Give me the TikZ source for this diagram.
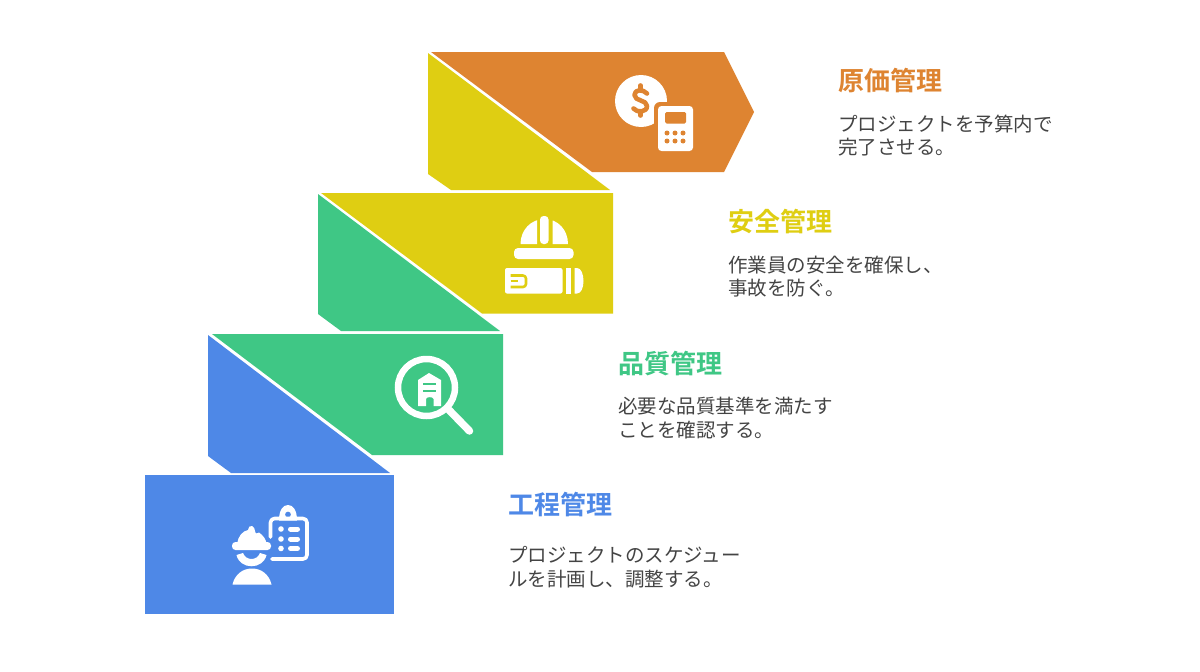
\documentclass[tikz,border=0pt]{standalone}
\usepackage{fontspec}
\setmainfont{Noto Sans CJK JP}
\newfontfamily\jpbold[BoldFont=Noto Sans CJK JP Bold]{Noto Sans CJK JP Bold}
\definecolor{cOrange}{HTML}{DE8431}
\definecolor{cYellow}{HTML}{DFCE12}
\definecolor{cGreen}{HTML}{3FC785}
\definecolor{cBlue}{HTML}{4E88E7}
\definecolor{cBody}{HTML}{444444}
\tikzset{
  titletext/.style={anchor=west,inner sep=0pt,font=\fontsize{26}{30}\selectfont\jpbold},
  bodytext/.style={anchor=west,inner sep=0pt,align=left,text=cBody,font=\fontsize{19.5}{23.5}\selectfont},
  iconfill/.style={fill=white,draw=none},
  iconline/.style={draw=white,line cap=round,line join=round}
}
\begin{document}
\begin{tikzpicture}[x=1pt,y=-1pt]
\useasboundingbox (0,0) rectangle (1200,672);
\fill[white] (0,0) rectangle (1200,672);
% step bodies
\fill[cOrange] (431,52) -- (724,52) -- (754,112) -- (724,172) -- (592,172) -- cycle;
\fill[cYellow] (428,53) -- (428,174) -- (451,190) -- (610,190) -- cycle;
\fill[cYellow] (321,193) -- (613,193) -- (613,313.5) -- (482,313.5) -- cycle;
\fill[cGreen] (318,194) -- (318,314) -- (341,331) -- (500,331) -- cycle;
\fill[cGreen] (212,334) -- (503,334) -- (503,455) -- (372,455) -- cycle;
\fill[cBlue] (208,335) -- (208,456) -- (231,473) -- (390,473) -- cycle;
\fill[cBlue] (145,475) rectangle (394,614);
% dollar + calculator icon
\fill[white] (641,101) circle (26);
\fill[cOrange,rounded corners=6] (654,102) rectangle (697,155);
\fill[white,rounded corners=3.5] (658,106) rectangle (693,151);
\fill[cOrange,rounded corners=1.5] (665,112) rectangle (686,123.5);
\foreach \bx in {667,675,683} \foreach \by in {133,141} \fill[cOrange] (\bx,\by) circle (2.5);
\draw[cOrange,line width=4.6,line cap=round,line join=round]
  (647,93.5) .. controls (643,89) and (634.5,89) .. (634.5,95)
  .. controls (634.5,101.5) and (647,99.5) .. (647,106)
  .. controls (647,112.5) and (637,113) .. (633.5,108.5);
\draw[cOrange,line width=4.6,line cap=round] (640.5,85.5) -- (640.5,89) (640.5,112) -- (640.5,115.5);
% helmet + roll icon
\begin{scope}
  \clip (515,210) rectangle (537,245) (552.5,210) rectangle (575,245);
  \fill[white] (520.5,244) .. controls (520.5,230) and (531,219) .. (544.5,219)
    .. controls (558,219) and (568,230) .. (568,244) -- cycle;
\end{scope}
\fill[white,rounded corners=3.5] (540,216) rectangle (548.5,244);
\fill[white,rounded corners=4] (514,248) rectangle (573.5,259);
\fill[white,rounded corners=2] (505,268) rectangle (562.5,293.5);
\draw[cYellow,line width=2.6,line join=round,rounded corners=3] (510.5,275.5) -- (526,275.5) -- (526,287) -- (510.5,287);
\draw[cYellow,line width=2.6] (510.5,281) -- (518,281);
\fill[white] (565.5,268) rectangle (571,293.5);
\fill[white] (574.5,268) -- (577,268) .. controls (581,268) and (583.5,274) .. (583.5,281)
  .. controls (583.5,288) and (581,293.5) .. (577,293.5) -- (574.5,293.5) -- cycle;
% magnifier icon
\draw[white,line width=6.5] (426.5,387.5) circle (28.5);
\draw[iconline,line width=7.5] (449,410) -- (469.5,431);
\fill[white] (418,380) -- (429,373) -- (441,380) -- (441,406) -- (433.5,406) -- (433.5,399)
  .. controls (433.5,396.5) and (426,396.5) .. (426,399) -- (426,406) -- (418,406) -- cycle;
\draw[cGreen,line width=2.8] (423,384) -- (436,384) (423,391) -- (436,391);
% worker + clipboard icon
\fill[white] (237.5,544) .. controls (237.5,536) and (243,531) .. (248,530)
  .. controls (248,527) and (250,525.5) .. (252,526)
  .. controls (254,527) and (255,529) .. (255,531)
  .. controls (255,534) and (258,534) .. (259,532.5)
  .. controls (263,535) and (266.5,540) .. (266.5,544) -- cycle;
\fill[white,rounded corners=3.5] (232,542) rectangle (271,550);
\fill[white] (236.5,555) -- (243,553) .. controls (246,561) and (257,561) .. (260,553)
  -- (266.5,555) .. controls (263,570) and (240,570) .. (236.5,555) -- cycle;
\fill[white] (232.5,584.5) .. controls (235,574) and (243,568.5) .. (252,568.5)
  .. controls (261,568.5) and (269,574) .. (271.5,584.5) -- cycle;
\draw[iconline,line width=3.6,rounded corners=4] (270.5,537) -- (270.5,518.5) -- (307,518.5)
  -- (307,559) -- (272,559);
\fill[white,even odd rule] (279,520.5) .. controls (279,510) and (283,505) .. (288,505)
  .. controls (293,505) and (297,510) .. (297,520.5) -- cycle (288,514.5) circle (3);
\foreach \ly in {529,539,548.5} {
  \fill[white] (281,\ly) circle (2.8);
  \draw[iconline,line width=5] (290.5,\ly) -- (297.5,\ly);
}
% labels
\node[titletext,text=cOrange] (t1) at (838,81) {原価管理};
\node[bodytext] (b1) at (838,135.5) {プロジェクトを予算内で\\完了させる。};
\node[titletext,text=cYellow] (t2) at (728,222) {安全管理};
\node[bodytext] (b2) at (728,276.5) {作業員の安全を確保し、\\事故を防ぐ。};
\node[titletext,text=cGreen] (t3) at (618,364) {品質管理};
\node[bodytext] (b3) at (618,418) {必要な品質基準を満たす\\ことを確認する。};
\node[titletext,text=cBlue] (t4) at (508,505) {工程管理};
\node[bodytext] (b4) at (508,567) {プロジェクトのスケジュー\\ルを計画し、調整する。};
\end{tikzpicture}
\end{document}
